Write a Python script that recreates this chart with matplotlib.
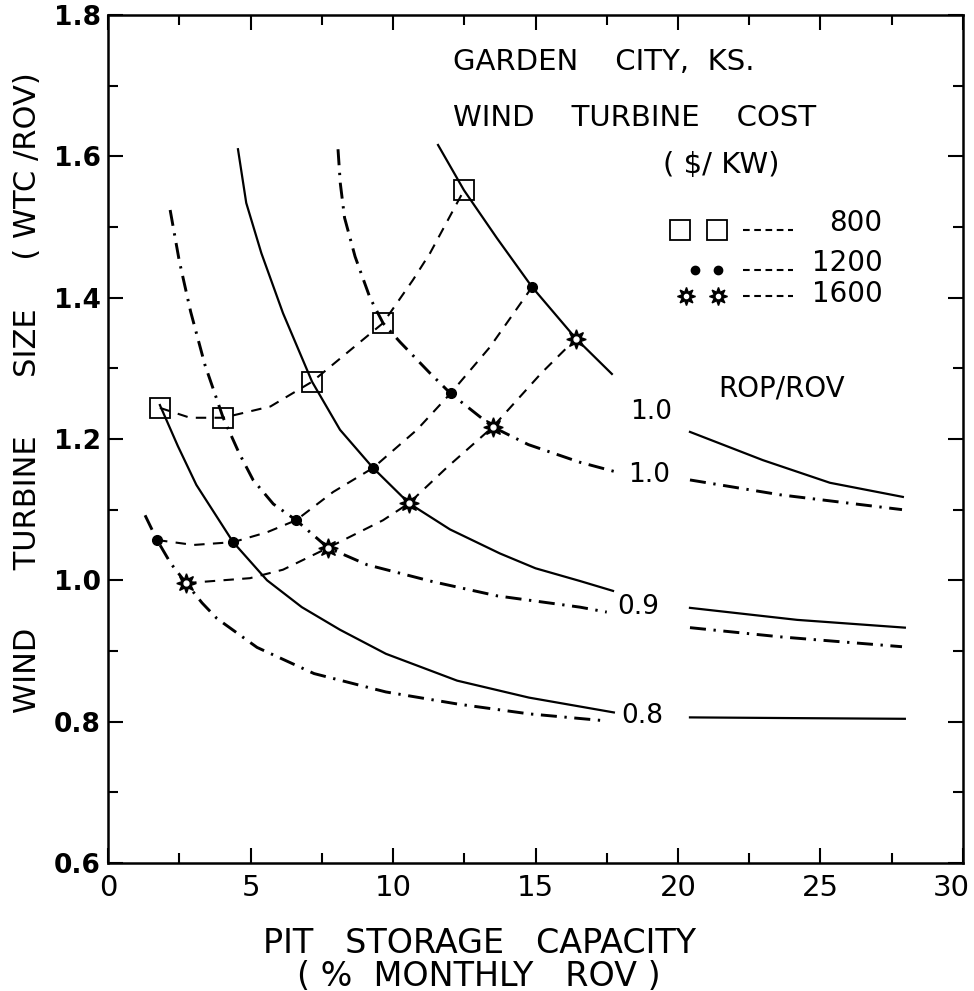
import matplotlib
matplotlib.use("Agg")
import matplotlib.pyplot as plt
import matplotlib.transforms as mtransforms
from matplotlib.ticker import MultipleLocator

# --- ROP/ROV curves (solid family) ---
solid_10_x = [11.58, 12.49, 13.65, 14.88, 16.42, 17.68]
solid_10_y = [1.616, 1.552, 1.484, 1.415, 1.342, 1.292]
solid_10_tail_x = [20.42, 22.98, 25.33, 27.89]
solid_10_tail_y = [1.210, 1.170, 1.138, 1.118]

solid_09_x = [4.56, 4.85, 5.38, 6.14, 7.16, 8.14, 9.30, 10.56, 12.0, 13.75, 15.0, 16.56, 17.72]
solid_09_y = [1.610, 1.534, 1.463, 1.378, 1.281, 1.213, 1.159, 1.109, 1.072, 1.038, 1.017, 0.999, 0.985]
solid_09_tail_x = [20.42, 24.18, 27.96]
solid_09_tail_y = [0.961, 0.944, 0.933]

solid_08_x = [1.82, 2.45, 3.1, 4.39, 5.58, 6.8, 8.14, 9.75, 12.25, 14.77, 17.75]
solid_08_y = [1.248, 1.190, 1.135, 1.054, 1.000, 0.962, 0.930, 0.896, 0.858, 0.834, 0.813]
solid_08_tail_x = [20.42, 24.0, 27.96]
solid_08_tail_y = [0.806, 0.805, 0.804]

# --- ROP/ROV curves (dash-dot family) ---
dd_10_x = [8.07, 8.15, 8.3, 8.67, 9.19, 9.65, 10.25, 11.3, 12.03, 13.5, 14.75, 16.56, 17.86]
dd_10_y = [1.610, 1.562, 1.513, 1.458, 1.400, 1.364, 1.337, 1.293, 1.264, 1.217, 1.192, 1.167, 1.153]
dd_10_tail_x = [20.42, 23.58, 27.86]
dd_10_tail_y = [1.142, 1.121, 1.100]

dd_09_x = [2.18, 2.5, 2.9, 3.4, 4.04, 4.6, 5.09, 5.8, 6.6, 7.72, 9.09, 11.4, 13.65, 16.56, 17.5]
dd_09_y = [1.524, 1.452, 1.380, 1.305, 1.230, 1.180, 1.142, 1.108, 1.085, 1.046, 1.022, 0.998, 0.978, 0.962, 0.955]
dd_09_tail_x = [20.42, 23.58, 27.86]
dd_09_tail_y = [0.933, 0.920, 0.906]

dd_08_x = [1.3, 1.72, 2.2, 2.74, 3.3, 3.82, 5.23, 7.23, 9.75, 12.25, 14.77, 17.5]
dd_08_y = [1.092, 1.057, 1.024, 0.996, 0.968, 0.946, 0.905, 0.868, 0.842, 0.825, 0.811, 0.801]

# --- wind turbine cost lines ($/KW) ---
sq_x = [1.82, 4.04, 7.16, 9.65, 12.49]          # 800
sq_y = [1.244, 1.230, 1.281, 1.364, 1.552]
sq_line_x = [1.82, 2.88, 4.04, 5.7, 7.16, 8.39, 9.65, 10.7, 11.3, 12.49]
sq_line_y = [1.244, 1.230, 1.230, 1.246, 1.281, 1.322, 1.364, 1.425, 1.463, 1.552]

dot_x = [1.72, 4.39, 6.6, 9.30, 12.03, 14.88]   # 1200
dot_y = [1.057, 1.054, 1.085, 1.159, 1.265, 1.415]
dot_line_x = [1.72, 3.0, 4.39, 5.58, 6.6, 7.9, 9.30, 10.84, 12.03, 13.4, 14.88]
dot_line_y = [1.057, 1.050, 1.054, 1.068, 1.085, 1.125, 1.159, 1.213, 1.265, 1.330, 1.415]

star_x = [2.74, 7.72, 10.56, 13.5, 16.42]        # 1600
star_y = [0.996, 1.046, 1.109, 1.217, 1.342]
star_line_x = [2.74, 4.98, 6.14, 7.72, 9.65, 10.56, 11.9, 13.5, 15.2, 16.42]
star_line_y = [0.996, 1.003, 1.015, 1.046, 1.085, 1.109, 1.160, 1.217, 1.293, 1.342]

cost_labels = ["800", "1200", "1600"]
x_ticks = [0, 5, 10, 15, 20, 25, 30]
y_ticks = [0.6, 0.8, 1.0, 1.2, 1.4, 1.6, 1.8]

fig = plt.figure(figsize=(9.74, 9.91), dpi=100)
ax = fig.add_axes([0.1109, 0.1292, 0.8778, 0.8557])

SOLID = dict(color="black", lw=1.6, ls="-")
DASHDOT = dict(color="black", lw=2.1, ls=(0, (5.5, 2.6, 0.8, 2.6)))
DASHED = dict(color="black", lw=1.5, ls=(0, (5, 4)))

for xs, ys in [(solid_10_x, solid_10_y), (solid_10_tail_x, solid_10_tail_y),
               (solid_09_x, solid_09_y), (solid_09_tail_x, solid_09_tail_y),
               (solid_08_x, solid_08_y), (solid_08_tail_x, solid_08_tail_y)]:
    ax.plot(xs, ys, **SOLID)

for xs, ys in [(dd_10_x, dd_10_y), (dd_10_tail_x, dd_10_tail_y),
               (dd_09_x, dd_09_y), (dd_09_tail_x, dd_09_tail_y),
               (dd_08_x, dd_08_y)]:
    ax.plot(xs, ys, **DASHDOT)

for xs, ys in [(sq_line_x, sq_line_y), (dot_line_x, dot_line_y), (star_line_x, star_line_y)]:
    ax.plot(xs, ys, **DASHED)

ax.plot(sq_x, sq_y, ls="none", marker="s", ms=14, mfc="none", mec="black", mew=1.3)
ax.plot(dot_x, dot_y, ls="none", marker="o", ms=7, mfc="black", mec="black")
ax.plot(star_x, star_y, ls="none", marker=(8, 1, 0), ms=14, mfc="black", mec="black")
ax.plot(star_x, star_y, ls="none", marker="o", ms=3.5, mfc="white", mec="white")

# legend built by hand (axes fraction)
T = ax.transAxes
ax.plot([0.669, 0.712], [0.746, 0.746], ls="none", marker="s", ms=14, mfc="none",
        mec="black", mew=1.3, transform=T, clip_on=False)
ax.plot([0.687, 0.713], [0.699, 0.699], ls="none", marker="o", ms=6, mfc="black",
        mec="black", transform=T)
ax.plot([0.676, 0.713], [0.668, 0.668], ls="none", marker=(8, 1, 0), ms=13,
        mfc="black", mec="black", transform=T)
ax.plot([0.676, 0.713], [0.668, 0.668], ls="none", marker="o", ms=3, mfc="white",
        mec="white", transform=T)
for yy in [0.746, 0.699, 0.668]:
    ax.plot([0.743, 0.801], [yy, yy], color="black", lw=1.5, ls=(0, (3.2, 2.2)), transform=T)
for lab, yy in zip(cost_labels, [0.755, 0.708, 0.671]):
    ax.text(0.906, yy, lab, transform=T, ha="right", va="center", fontsize=20)

ax.text(0.4035, 0.9446, "GARDEN    CITY,  KS.", transform=T, ha="left", va="center", fontsize=21)
ax.text(0.4035, 0.8785, "WIND    TURBINE    COST", transform=T, ha="left", va="center", fontsize=21)
ax.text(0.717, 0.823, "( $/ KW)", transform=T, ha="center", va="center", fontsize=21)
ax.text(0.788, 0.560, "ROP/ROV", transform=T, ha="center", va="center", fontsize=20)

ax.text(0.6105, 0.532, "1.0", transform=T, ha="left", va="center", fontsize=19)
ax.text(0.608, 0.4575, "1.0", transform=T, ha="left", va="center", fontsize=19)
ax.text(0.596, 0.302, "0.9", transform=T, ha="left", va="center", fontsize=19)
ax.text(0.600, 0.173, "0.8", transform=T, ha="left", va="center", fontsize=19)

ax.set_xlim(0, 30)
ax.set_ylim(0.6, 1.8)
ax.set_xticks(x_ticks)
ax.set_xticklabels([str(v) for v in x_ticks], fontsize=21)
ax.set_yticks(y_ticks)
ax.set_yticklabels([f"{v:.1f}" for v in y_ticks], fontsize=19, fontweight="bold")
ax.xaxis.set_minor_locator(MultipleLocator(2.5))
ax.yaxis.set_minor_locator(MultipleLocator(0.1))
ax.tick_params(which="both", direction="in", top=True, right=True, width=1.5)
ax.tick_params(which="major", length=11)
ax.tick_params(which="minor", length=7)
ax.tick_params(axis="x", pad=8)
ax.tick_params(axis="y", pad=5)
for sp in ax.spines.values():
    sp.set_linewidth(1.8)

# last x tick label sits left of its tick, as in the source
last = ax.get_xticklabels()[-1]
last.set_ha("right")
last.set_transform(last.get_transform() + mtransforms.ScaledTranslation(0.07, 0, fig.dpi_scale_trans))

ax.set_xlabel("PIT   STORAGE   CAPACITY\n( %  MONTHLY   ROV )",
              fontsize=24, linespacing=1.0)
ax.xaxis.set_label_coords(0.434, -0.075)
ax.xaxis.label.set_va("top")
ax.set_ylabel("WIND      TURBINE      SIZE     ( WTC /ROV)", fontsize=22)
ax.yaxis.set_label_coords(-0.094, 0.555)
ax.yaxis.label.set_va("center")

fig.savefig("out.png", dpi=100)
